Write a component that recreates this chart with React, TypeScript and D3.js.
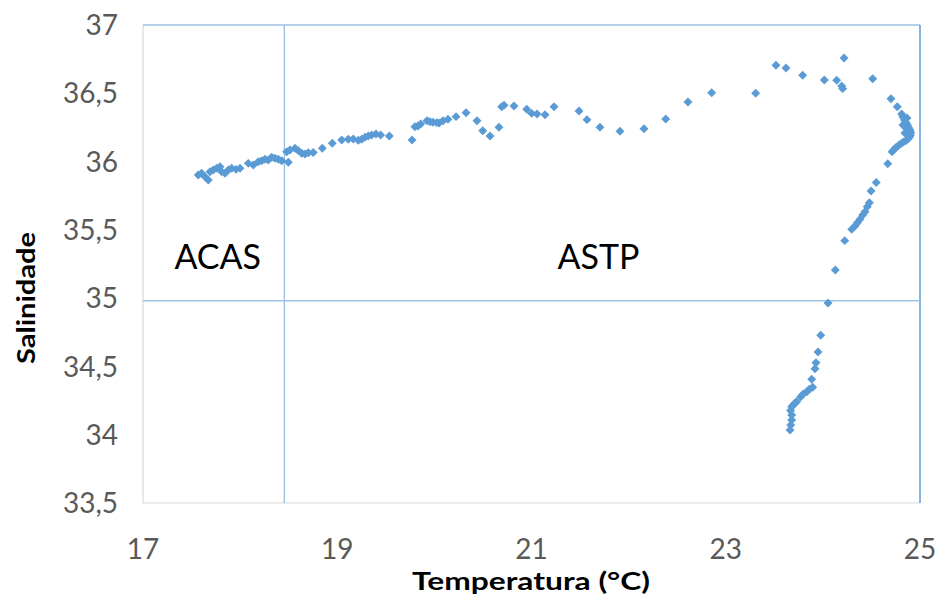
import React from "react";
import * as d3 from "d3";

const temperature: number[] = [
  17.569, 17.604, 17.638, 17.672, 17.69, 17.724, 17.759, 17.793, 17.81, 17.844,
  17.878, 17.913, 17.958, 17.999, 18.084, 18.136, 18.187, 18.222, 18.256, 18.29,
  18.325, 18.359, 18.393, 18.428, 18.496, 18.48, 18.514, 18.565, 18.599, 18.634,
  18.668, 18.702, 18.753, 18.846, 18.949, 19.046, 19.114, 19.165, 19.217, 19.252,
  19.286, 19.32, 19.355, 19.399, 19.447, 19.536, 19.77,
  19.8, 19.831, 19.859, 19.924, 19.955, 19.986, 20.024, 20.048, 20.089, 20.14,
  20.223, 20.326, 20.439, 20.498, 20.573, 20.665, 20.693, 20.717, 20.82, 20.951,
  21.002, 21.057, 21.139, 21.232, 21.489, 21.571, 21.705, 21.911, 22.158, 22.382,
  22.611, 22.855, 23.308, 23.517, 23.62, 23.792, 24.015, 24.142, 24.194, 24.204,
  24.218, 24.513, 24.701, 24.766,
  24.811, 24.825, 24.84, 24.856, 24.871, 24.882, 24.897, 24.905, 24.902, 24.892,
  24.876, 24.856, 24.83, 24.805, 24.779, 24.753, 24.732, 24.712, 24.866, 24.856,
  24.845, 24.825,
  24.668, 24.55, 24.496, 24.479, 24.457, 24.434, 24.41, 24.382, 24.355, 24.331,
  24.297, 24.225, 24.128, 24.053, 23.978, 23.95, 23.929, 23.919, 23.885, 23.895,
  23.86, 23.834, 23.798, 23.772, 23.73, 23.695, 23.679, 23.713, 23.679, 23.679,
  23.669, 23.662, 23.667,
];

const salinity: number[] = [
  35.902, 35.914, 35.889, 35.865, 35.926, 35.938, 35.951, 35.962, 35.926, 35.914,
  35.938, 35.951, 35.943, 35.951, 35.987, 35.975, 35.999, 36.006, 36.017, 36.011,
  36.031, 36.024, 36.017, 36.006, 35.995, 36.072, 36.085, 36.097, 36.08, 36.061,
  36.055, 36.065, 36.066, 36.097, 36.134, 36.158, 36.163, 36.165, 36.156, 36.163,
  36.178, 36.187, 36.195, 36.202, 36.195, 36.187, 36.158,
  36.255, 36.26, 36.275, 36.299, 36.292, 36.288, 36.285, 36.282, 36.299, 36.31,
  36.329, 36.358, 36.299, 36.226, 36.187, 36.251, 36.402, 36.412, 36.407, 36.383,
  36.353, 36.348, 36.343, 36.402, 36.37, 36.307, 36.251, 36.222, 36.241, 36.312,
  36.436, 36.504, 36.5, 36.705, 36.685, 36.632, 36.597, 36.595, 36.553, 36.534,
  36.758, 36.607, 36.46, 36.402,
  36.348, 36.326, 36.304, 36.286, 36.268, 36.249, 36.231, 36.213, 36.195, 36.18,
  36.165, 36.154, 36.143, 36.132, 36.118, 36.103, 36.088, 36.072, 36.319, 36.246,
  36.209, 36.268,
  35.984, 35.847, 35.785, 35.699, 35.67, 35.633, 35.609, 35.577, 35.552, 35.528,
  35.504, 35.421, 35.206, 34.964, 34.728, 34.606, 34.527, 34.483, 34.406, 34.347,
  34.333, 34.315, 34.298, 34.278, 34.242, 34.218, 34.205, 34.232, 34.144, 34.108,
  34.071, 34.034, 34.177,
];

const xTicks: number[] = [17, 19, 21, 23, 25];
const yTicks: number[] = [33.5, 34, 34.5, 35, 35.5, 36, 36.5, 37];
const dividerTemperature = 18.455;
const dividerSalinity = 34.98;
const regionLabels: { text: string; t: number; s: number }[] = [
  { text: "ACAS", t: 17.77, s: 35.3 },
  { text: "ASTP", t: 21.69, s: 35.3 },
];

const W = 941;
const H = 601;
const left = 143;
const right = 920;
const top = 25;
const bottom = 503;

export default function App() {
  const x = d3.scaleLinear().domain([17, 25]).range([left, right]);
  const y = d3.scaleLinear().domain([33.5, 37]).range([bottom, top]);
  const marker = d3.symbol().type(d3.symbolSquare).size(40)() as string;
  const fmt = (v: number) => String(v).replace(".", ",");
  const font = "Lato, 'Open Sans', 'DejaVu Sans', sans-serif";
  const pts = temperature.map((t, i) => [t, salinity[i]] as [number, number]);

  return (
    <div style={{ position: "fixed", left: 0, top: 0, width: W, height: H, background: "#fff" }}>
      <svg width={W} height={H} style={{ display: "block" }}>
        <rect x={0} y={0} width={W} height={H} fill="#fff" />
        {/* plot frame */}
        <line x1={left} x2={left} y1={top} y2={bottom} stroke="#d9d9d9" strokeWidth={1.2} />
        <line x1={left} x2={right} y1={bottom} y2={bottom} stroke="#d9d9d9" strokeWidth={1.2} />
        <line x1={left} x2={right} y1={y(37)} y2={y(37)} stroke="#9dc3e6" strokeWidth={1.5} />
        <line x1={right} x2={right} y1={top} y2={bottom} stroke="#5b9bd5" strokeWidth={1.5} />
        {/* divider lines */}
        <line x1={x(dividerTemperature)} x2={x(dividerTemperature)} y1={top} y2={bottom} stroke="#8fb8e0" strokeWidth={1.2} />
        <line x1={left} x2={right} y1={y(dividerSalinity)} y2={y(dividerSalinity)} stroke="#9dc3e6" strokeWidth={1.5} />
        {/* y ticks */}
        {yTicks.map((v) => (
          <text key={"y" + v} x={118} y={y(v)} dy="0.36em" textAnchor="end" fontFamily={font} fontSize={28} fill="#595959">
            {fmt(v)}
          </text>
        ))}
        {xTicks.map((v) => (
          <text key={"x" + v} x={x(v)} y={559} textAnchor="middle" fontFamily={font} fontSize={28} fill="#595959">
            {fmt(v)}
          </text>
        ))}
        <text x={531} y={590} textAnchor="middle" fontFamily={font} fontSize={25} fontWeight="bold" fill="#000"
          textLength={238} lengthAdjust="spacingAndGlyphs">
          Temperatura (°C)
        </text>
        <text transform={`translate(35,${298}) rotate(-90)`} textAnchor="middle" fontFamily={font} fontSize={25} fontWeight="bold" fill="#000"
          textLength={132} lengthAdjust="spacingAndGlyphs">
          Salinidade
        </text>
        {regionLabels.map((r) => (
          <text key={r.text} x={x(r.t)} y={y(r.s)} dy="0.36em" textAnchor="middle" fontFamily={font} fontSize={34} fill="#000">
            {r.text}
          </text>
        ))}
        {pts.map((p, i) => (
          <path key={i} d={marker} transform={`translate(${x(p[0])},${y(p[1])}) rotate(45)`} fill="#5b9bd5" />
        ))}
      </svg>
    </div>
  );
}
